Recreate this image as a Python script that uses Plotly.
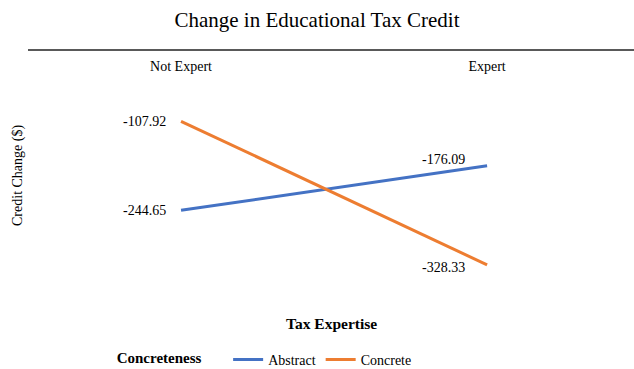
import plotly.graph_objects as go

categories = ["Not Expert", "Expert"]
abstract_vals = [-244.65, -176.09]
concrete_vals = [-107.92, -328.33]
series_names = ["Abstract", "Concrete"]
series_colors = ["#4472C4", "#ED7D31"]

FONT = "Liberation Serif, Times New Roman, serif"

fig = go.Figure()
for name, vals, col in zip(series_names, [abstract_vals, concrete_vals], series_colors):
    fig.add_trace(go.Scatter(x=categories, y=vals, mode="lines", name=name,
                             line=dict(color=col, width=3)))

# data labels
label_style = {
    ("Abstract", 0): dict(xanchor="right", xshift=-13, yshift=0),
    ("Abstract", 1): dict(xanchor="right", xshift=-20, yshift=6),
    ("Concrete", 0): dict(xanchor="right", xshift=-13, yshift=0),
    ("Concrete", 1): dict(xanchor="right", xshift=-20, yshift=-3),
}
for name, vals in zip(series_names, [abstract_vals, concrete_vals]):
    for i, (c, v) in enumerate(zip(categories, vals)):
        st = label_style[(name, i)]
        fig.add_annotation(x=c, y=v, text=f"{v:.2f}", showarrow=False,
                           yanchor="middle", font=dict(family=FONT, size=14, color="#000"),
                           **st)

fig.add_annotation(x=0.5, y=-0.071, xref="paper", yref="paper", text="<b>Tax Expertise</b>",
                   showarrow=False, xanchor="center", yanchor="middle",
                   font=dict(family=FONT, size=15.5, color="#000"))
fig.add_annotation(x=-0.0165, y=0.508, xref="paper", yref="paper", text="Credit Change ($)",
                   showarrow=False, textangle=-90, xanchor="center", yanchor="middle",
                   font=dict(family=FONT, size=14, color="#000"))

fig.update_layout(
    width=634, height=369,
    margin=dict(l=28, r=0, t=51, b=64, autoexpand=False),
    paper_bgcolor="white", plot_bgcolor="white",
    font=dict(family=FONT, color="#000"),
    title=dict(text="Change in Educational Tax Credit", x=0.5, xanchor="center",
               y=(369 - 20) / 369, yanchor="middle", font=dict(family=FONT, size=21, color="#000")),
    xaxis=dict(type="category", side="top", range=[-0.5, 1.48], showgrid=False, zeroline=False,
               showline=True, linecolor="#595959", linewidth=1.5,
               ticks="inside", ticklen=10, tickcolor="rgba(0,0,0,0)",
               ticklabelposition="inside", tickfont=dict(family=FONT, size=14, color="#000")),
    yaxis=dict(range=[-390, 0], showgrid=False, zeroline=False, showline=False,
               showticklabels=False, ticks=""),
    showlegend=True,
    legend=dict(orientation="h", x=0.143, xanchor="left", y=-0.2165, yanchor="middle",
                title=dict(text="<b>Concreteness</b>&nbsp;&nbsp;&nbsp;&nbsp;&nbsp;", side="left",
                           font=dict(family=FONT, size=15, color="#000")),
                font=dict(family=FONT, size=14, color="#000")),
)

fig.write_html("out.html")
